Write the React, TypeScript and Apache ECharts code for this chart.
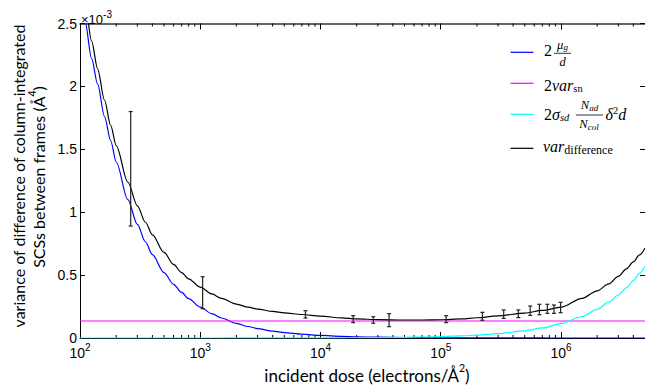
import React, { useEffect, useRef } from "react";
import * as echarts from "echarts";

// dose (electrons/Å^2)
const doses = [100, 110, 125, 140, 160, 180, 200, 250, 300, 350, 400, 500, 600, 700, 800, 1000, 1250, 1500, 2000, 2500, 3000, 4000, 5000, 7000, 10000, 15000, 20000, 30000, 50000, 70000, 100000, 150000, 200000, 300000, 500000, 700000, 1000000, 1500000, 2000000, 2500000, 3000000, 3500000, 4000000, 4500000, 5000000];
// values in units of 1e-3 Å^4
const muTerm = [2.82, 2.52, 2.22, 2.02, 1.76, 1.568, 1.399, 1.1, 0.903, 0.765, 0.662, 0.52, 0.427, 0.362, 0.313, 0.246, 0.193, 0.159, 0.116, 0.0915, 0.0751, 0.0551, 0.0433, 0.0301, 0.0205, 0.0132, 0.0097, 0.0062, 0.0036, 0.0025, 0.0017, 0.0011, 0.0008, 0.0005, 0.0003, 0.0002, 0.00014, 0.0001, 0.00007, 0.00006, 0.00005, 0.00004, 0.00004, 0.00003, 0.00003];
const sdTerm = [0.00001, 0.00001, 0.00001, 0.00002, 0.00002, 0.00002, 0.00002, 0.00003, 0.00003, 0.00004, 0.00005, 0.00006, 0.00007, 0.00008, 0.00009, 0.00011, 0.00014, 0.00017, 0.00023, 0.00029, 0.00034, 0.00046, 0.00057, 0.0008, 0.00114, 0.0017, 0.0023, 0.0034, 0.0057, 0.008, 0.0114, 0.0171, 0.0228, 0.0342, 0.057, 0.0798, 0.114, 0.171, 0.228, 0.285, 0.342, 0.399, 0.456, 0.513, 0.57];
const diffVar = [2.98, 2.66, 2.36, 2.14, 1.89, 1.69, 1.53, 1.24, 1.05, 0.92, 0.82, 0.68, 0.585, 0.52, 0.47, 0.405, 0.35, 0.315, 0.27, 0.245, 0.23, 0.211, 0.199, 0.187, 0.174, 0.16, 0.152, 0.146, 0.143, 0.143, 0.145, 0.152, 0.161, 0.176, 0.198, 0.219, 0.245, 0.315, 0.375, 0.43, 0.49, 0.55, 0.605, 0.66, 0.715];
const snDoses = [100, 5000000];
const snTerm = [0.135, 0.135];

// measured points with error bars
const errDoses = [264, 1047, 7500, 18700, 27500, 37200, 111000, 222000, 334000, 442000, 555000, 662000, 771000, 875000, 993000];
const errLow = [0.89, 0.233, 0.159, 0.122, 0.117, 0.09, 0.122, 0.141, 0.156, 0.162, 0.18, 0.185, 0.196, 0.196, 0.201];
const errHigh = [1.8, 0.487, 0.217, 0.177, 0.169, 0.193, 0.177, 0.204, 0.223, 0.223, 0.254, 0.268, 0.268, 0.262, 0.284];

const xMin = 100;
const xMax = 5000000;
const yMin = 0;
const yMax = 2.5;
const yStep = 0.5;
const minorMultipliers = [2, 3, 4, 5, 6, 7, 8, 9];
const decades = [100, 1000, 10000, 100000, 1000000];

const pairs = (xs: number[], ys: number[]) => xs.map((x, i) => [x, ys[i]]);

export default function App() {
  const ref = useRef<HTMLDivElement>(null);
  useEffect(() => {
    document.body.style.margin = "0";
    const chart = echarts.init(ref.current!, null, { renderer: "svg" });

    const minorTicks: number[][] = [];
    decades.forEach((d) =>
      minorMultipliers.forEach((m) => {
        const v = d * m;
        if (v < xMax) minorTicks.push([v, 0]);
      })
    );

    const serif = "Liberation Serif";
    const tok = (size: number, italic: boolean, lineHeight: number, va: string) => ({
      fontSize: size,
      fontFamily: serif,
      fontStyle: italic ? "italic" : "normal",
      fill: "#000",
      lineHeight,
      verticalAlign: va,
    });
    const mathRich = {
      n: tok(16, false, 18, "middle"),
      i: tok(16, true, 18, "middle"),
      sub: tok(10.5, false, 10, "bottom"),
      subi: tok(10.5, true, 10, "bottom"),
      sup: tok(10.5, false, 10, "top"),
      fi: tok(12.5, true, 14, "middle"),
      fs: tok(9, true, 9, "bottom"),
      dsub: tok(12, false, 11, "bottom"),
    };
    const rt = (x: number, y: number, text: string, align = "left") => ({
      type: "text",
      x,
      y,
      z: 100,
      silent: true,
      style: { text, align, verticalAlign: "middle", rich: mathRich },
    });
    const ln = (x1: number, y1: number, x2: number, y2: number, color: string, w = 1.2) => ({
      type: "line",
      z: 100,
      silent: true,
      shape: { x1, y1, x2, y2 },
      style: { stroke: color, lineWidth: w },
    });

    const sansTitle = "Lato";
    const titleRich = (size: number) => ({
      a: { fontSize: size, fontFamily: sansTitle, fill: "#000", lineHeight: size + 4, verticalAlign: "bottom" },
      s: { fontSize: 10.5, fontFamily: sansTitle, fill: "#000", lineHeight: 10, verticalAlign: "top" },
    });

    const graphic: any[] = [
      // legend samples
      ln(510.5, 52.3, 533.5, 52.3, "#0000ff"),
      ln(510.5, 83.3, 533.5, 83.3, "#ff00ff"),
      ln(510.5, 114.3, 533.5, 114.3, "#00ffff"),
      ln(510.5, 148.3, 533.5, 148.3, "#000000"),
      // item 1: 2 mu_g / d
      rt(544, 50.6, "{n|2}"),
      rt(562.5, 44.5, "{fi|μ}{fs|g}", "center"),
      ln(554, 53.3, 571, 53.3, "#000", 0.8),
      rt(562.5, 62, "{fi|d}", "center"),
      // item 2: 2 var_sn
      rt(544, 85.2, "{n|2}{i|var}{sub|sn}"),
      // item 3
      rt(544, 114.2, "{n|2}{i|σ}{subi|sd}"),
      rt(589.5, 105.4, "{fi|N}{fs|ad}", "center"),
      ln(576, 115, 603, 115, "#000", 0.8),
      rt(589, 124.2, "{fi|N}{fs|col}", "center"),
      rt(605.5, 114.2, "{i|δ}{sup|2}{i|d}"),
      // item 4
      rt(543, 146.6, "{i|var}{dsub|difference}"),
      // exponent label
      {
        type: "text",
        x: 81,
        y: 17.5,
        z: 100,
        silent: true,
        style: {
          text: "{a|×10}{s|-3}",
          align: "left",
          verticalAlign: "middle",
          rich: {
            a: { fontSize: 13, fontFamily: "Liberation Sans", fill: "#000", lineHeight: 16, verticalAlign: "bottom" },
            s: { fontSize: 10, fontFamily: "Liberation Sans", fill: "#000", lineHeight: 10, verticalAlign: "top" },
          },
        },
      },
      // x title
      {
        type: "text",
        x: 367,
        y: 373,
        z: 100,
        silent: true,
        style: {
          text: "{a|incident dose (electrons/Å}{s|2}{a|)}",
          align: "center",
          verticalAlign: "middle",
          rich: titleRich(17),
        },
      },
      // y title line 1
      {
        type: "text",
        x: 18,
        y: 176,
        rotation: Math.PI / 2,
        z: 100,
        silent: true,
        style: {
          text: "variance of difference of column-integrated",
          fontSize: 16,
          fontFamily: sansTitle,
          fill: "#000",
          align: "center",
          verticalAlign: "middle",
        },
      },
      // y title line 2
      {
        type: "text",
        x: 36,
        y: 177,
        rotation: Math.PI / 2,
        z: 100,
        silent: true,
        style: {
          text: "{a|SCSs between frames (Å}{s|4}{a|)}",
          align: "center",
          verticalAlign: "middle",
          rich: titleRich(16),
        },
      },
    ];

    const xLabelFmt = (v: number) => {
      const l = Math.log10(v);
      const e = Math.round(l);
      if (Math.abs(l - e) > 1e-6) return "";
      return `{b|10}{s|${e}}`;
    };

    const baseX = {
      type: "log",
      logBase: 10,
      min: xMin,
      max: xMax,
      splitLine: { show: false },
      minorTick: { show: false },
      axisTick: { show: true, inside: true, length: 6, lineStyle: { color: "#000", width: 1 } },
    };
    const baseY = {
      type: "value",
      min: yMin,
      max: yMax,
      interval: yStep,
      splitLine: { show: false },
      axisTick: { show: true, inside: true, length: 5, lineStyle: { color: "#000", width: 1 } },
    };

    const lineSeries = (name: string, xs: number[], ys: number[], color: string, z: number) => ({
      name,
      type: "line",
      data: pairs(xs, ys),
      showSymbol: false,
      symbol: "none",
      smooth: 0.3,
      smoothMonotone: "x",
      z,
      lineStyle: { color, width: 1.2 },
      itemStyle: { color },
    });

    const option: any = {
      animation: false,
      backgroundColor: "#ffffff",
      grid: { left: 80, top: 23.5, width: 568, height: 314.5, containLabel: false },
      xAxis: [
        {
          ...baseX,
          position: "bottom",
          axisLine: { show: true, onZero: false, lineStyle: { color: "#000", width: 1 } },
          axisLabel: {
            show: true,
            margin: 4,
            showMaxLabel: false,
            formatter: xLabelFmt,
            rich: {
              b: { fontSize: 14, fontFamily: "Liberation Sans", color: "#000", lineHeight: 18, verticalAlign: "bottom" },
              s: { fontSize: 10, fontFamily: "Liberation Sans", color: "#000", lineHeight: 12, verticalAlign: "top" },
            },
          },
        },
        {
          ...baseX,
          position: "top",
          axisLine: { show: true, onZero: false, lineStyle: { color: "#333", width: 1.5 } },
          axisLabel: { show: false },
        },
      ],
      yAxis: [
        {
          ...baseY,
          position: "left",
          axisLine: { show: true, onZero: false, lineStyle: { color: "#000", width: 1 } },
          axisLabel: {
            show: true,
            margin: 3,
            fontSize: 14,
            fontFamily: "Liberation Sans",
            color: "#000",
            formatter: (v: number) => String(v),
          },
        },
        {
          ...baseY,
          position: "right",
          axisLine: { show: true, onZero: false, lineStyle: { color: "#000", width: 1 } },
          axisLabel: { show: false },
        },
      ],
      series: [
        {
          type: "custom",
          name: "minor",
          xAxisIndex: 0,
          yAxisIndex: 0,
          clip: false,
          silent: true,
          z: 1,
          data: minorTicks,
          encode: { x: 0, y: 1 },
          renderItem: (params: any, api: any) => {
            const v = api.value(0);
            const b = api.coord([v, yMin]);
            const tp = api.coord([v, yMax]);
            return {
              type: "group",
              children: [
                { type: "line", shape: { x1: b[0], y1: b[1], x2: b[0], y2: b[1] - 3 }, style: { stroke: "#000", lineWidth: 1 } },
                { type: "line", shape: { x1: tp[0], y1: tp[1], x2: tp[0], y2: tp[1] + 3 }, style: { stroke: "#000", lineWidth: 1 } },
              ],
            };
          },
        },
        lineSeries("mu", doses, muTerm, "#0000ff", 3),
        lineSeries("sn", snDoses, snTerm, "#ff00ff", 4),
        lineSeries("sd", doses, sdTerm, "#00ffff", 5),
        lineSeries("difference", doses, diffVar, "#000000", 6),
        {
          type: "custom",
          name: "errors",
          xAxisIndex: 0,
          yAxisIndex: 0,
          z: 7,
          silent: true,
          data: errDoses.map((d, i) => [d, errLow[i], errHigh[i]]),
          encode: { x: 0, y: [1, 2] },
          renderItem: (params: any, api: any) => {
            const d = api.value(0);
            const lo = api.coord([d, api.value(1)]);
            const hi = api.coord([d, api.value(2)]);
            const st = { stroke: "#222", lineWidth: 1.2 };
            return {
              type: "group",
              children: [
                { type: "line", shape: { x1: lo[0], y1: lo[1], x2: hi[0], y2: hi[1] }, style: st },
                { type: "line", shape: { x1: lo[0] - 2, y1: lo[1], x2: lo[0] + 2, y2: lo[1] }, style: st },
                { type: "line", shape: { x1: hi[0] - 2, y1: hi[1], x2: hi[0] + 2, y2: hi[1] }, style: st },
              ],
            };
          },
        },
      ],
      graphic,
    };

    chart.setOption(option);
    return () => chart.dispose();
  }, []);
  return <div ref={ref} style={{ width: 645, height: 385, background: "#fff" }} />;
}
